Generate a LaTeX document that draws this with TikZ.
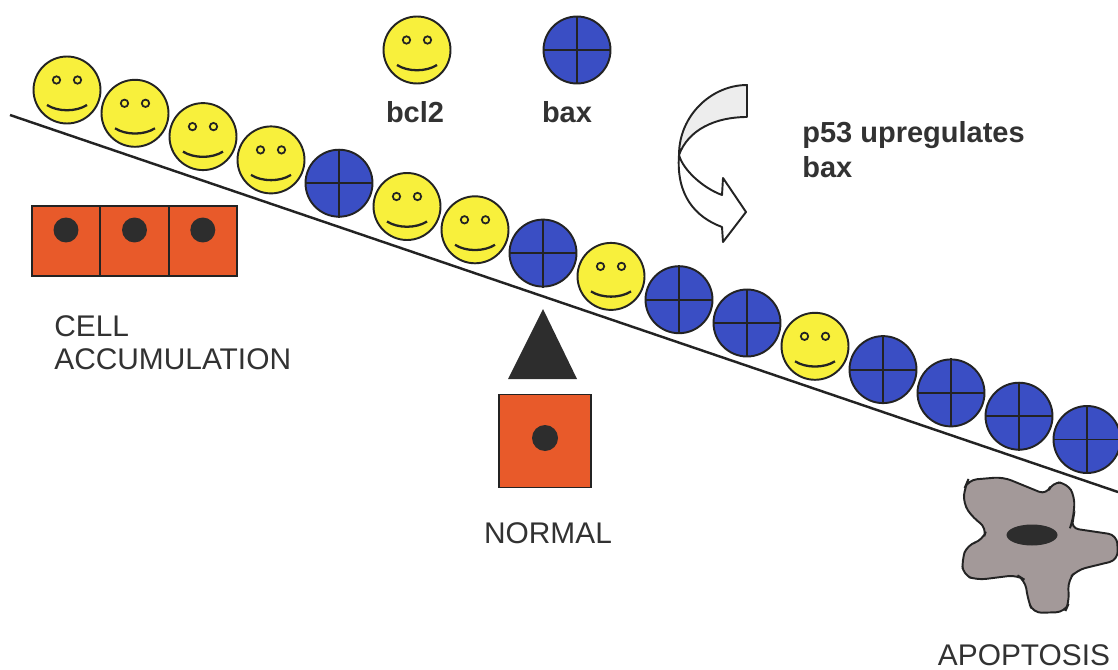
\documentclass[tikz,border=0pt]{standalone}
\usepackage{fontspec}
\setmainfont{Liberation Sans}
\usetikzlibrary{shapes.geometric}
\definecolor{smiley}{RGB}{248,240,60}
\definecolor{baxblue}{RGB}{58,78,196}
\definecolor{cellred}{RGB}{232,90,42}
\definecolor{nucdark}{RGB}{45,45,45}
\definecolor{apogray}{RGB}{163,153,153}
\definecolor{edgegray}{RGB}{35,35,35}
\definecolor{textgray}{RGB}{50,50,50}
\tikzset{
	ink/.style={draw=edgegray, line width=1.1pt},
	ball/.style={circle, ink, minimum size=1.34cm, inner sep=0pt},
	cellbox/.style={rectangle, ink, fill=cellred, inner sep=0pt},
	nucleus/.style={circle, fill=nucdark, minimum size=0.5cm, inner sep=0pt},
	lbl/.style={text=textgray, font=\fontsize{17}{19}\selectfont, inner sep=0pt},
	boldlbl/.style={text=textgray, font=\fontsize{16.5}{20}\selectfont\bfseries, inner sep=0pt},
	bcl2/.pic={
		\path (0,0) node(-c) [ball, fill=smiley] {};
		\draw [edgegray, line width=1pt] (-10.5,-10) circle (3.7) (10.5,-10) circle (3.7);
		\draw [edgegray, line width=1.3pt] (-20,15) .. controls (-9,22) and (9,22) .. (20,15);
	},
	bax/.pic={
		\path (0,0) node(-c) [ball, fill=baxblue] {};
		\draw [edgegray, line width=1.1pt] (-c.north) -- (-c.south) (-c.west) -- (-c.east);
	}
}
\begin{document}
\begin{tikzpicture}[x=0.02cm, y=-0.02cm]
		\useasboundingbox (0,0) rectangle (1118,669);
		\coordinate (slopetop) at (10,115);
		\coordinate (slopeend) at (1118,492);
		\draw [edgegray, line width=1.4pt] (slopetop) -- (slopeend);
		\foreach \i in {0,1,2,3,5,6,8,11}
			\pic (s\i) at ({67+68*\i},{90+23.3*\i}) {bcl2};
		\foreach \i in {4,7,9,10,12,13,14,15}
			\pic (x\i) at ({67+68*\i},{90+23.3*\i}) {bax};
		\pic (legbcl) at (417,50) {bcl2};
		\pic (legbax) at (577,50) {bax};
		\path (415,122) node(bcltext) [boldlbl, anchor=base] {bcl2};
		\path (567,122) node(baxtext) [boldlbl, anchor=base] {bax};
		\path (802,150) node(p53text) [boldlbl, anchor=west, align=left] {p53 upregulates\\bax};
		\draw [ink, fill=black!7, line join=round] (747,85) -- (747,117) .. controls (715,117) and (688,130) .. (679,155) .. controls (679,115) and (712,85) .. (747,85) -- cycle;
		\draw [ink, fill=white, line join=round] (679,155) .. controls (683,170) and (703,188) .. (722,195) -- (723,178) -- (746,212) -- (723,242) -- (722,227) .. controls (695,217) and (676,195) .. (679,155) -- cycle;
		\path (66,241) node(accA) [cellbox, minimum width=1.366cm, minimum height=1.4cm] {};
		\path (134.5,241) node(accB) [cellbox, minimum width=1.366cm, minimum height=1.4cm] {};
		\path (202.8,241) node(accC) [cellbox, minimum width=1.366cm, minimum height=1.4cm] {};
		\path (66,230) node(nucA) [nucleus] {};
		\path (134.5,230) node(nucB) [nucleus] {};
		\path (202.8,230) node(nucC) [nucleus] {};
		\path (54,343) node(accum) [lbl, anchor=west, align=left] {CELL\\ACCUMULATION};
		\fill [nucdark] (543,309) -- (577,379) -- (508,379) -- cycle;
		\path (545,441) node(normal) [cellbox, minimum width=1.84cm, minimum height=1.86cm] {};
		\path (545,438) node(nucN) [nucleus, minimum size=0.52cm] {};
		\path (548,543) node(normaltext) [lbl, anchor=base] {NORMAL};
		\draw [ink, fill=apogray, rounded corners=5pt] (968,480) -- (1003,477) -- (1047,495) -- (1052,482) -- (1067,483) -- (1075,497) -- (1073,520) -- (1070,528) -- (1117,535) -- (1118,560) -- (1077,570) -- (1068,580) -- (1069,603) -- (1065,612) -- (1033,613) -- (1028,600) -- (1025,580) -- (1017,575) -- (977,580) -- (963,575) -- (962,560) -- (967,545) -- (983,540) -- (987,528) -- (973,518) -- (963,503) -- (965,487) -- cycle;
		\path (1032,535) node(aponuc) [ellipse, fill=nucdark, minimum width=1.02cm, minimum height=0.42cm, inner sep=0pt] {};
		\path (1024,665) node(apotext) [lbl, anchor=base] {APOPTOSIS};
	\end{tikzpicture}
\end{document}
